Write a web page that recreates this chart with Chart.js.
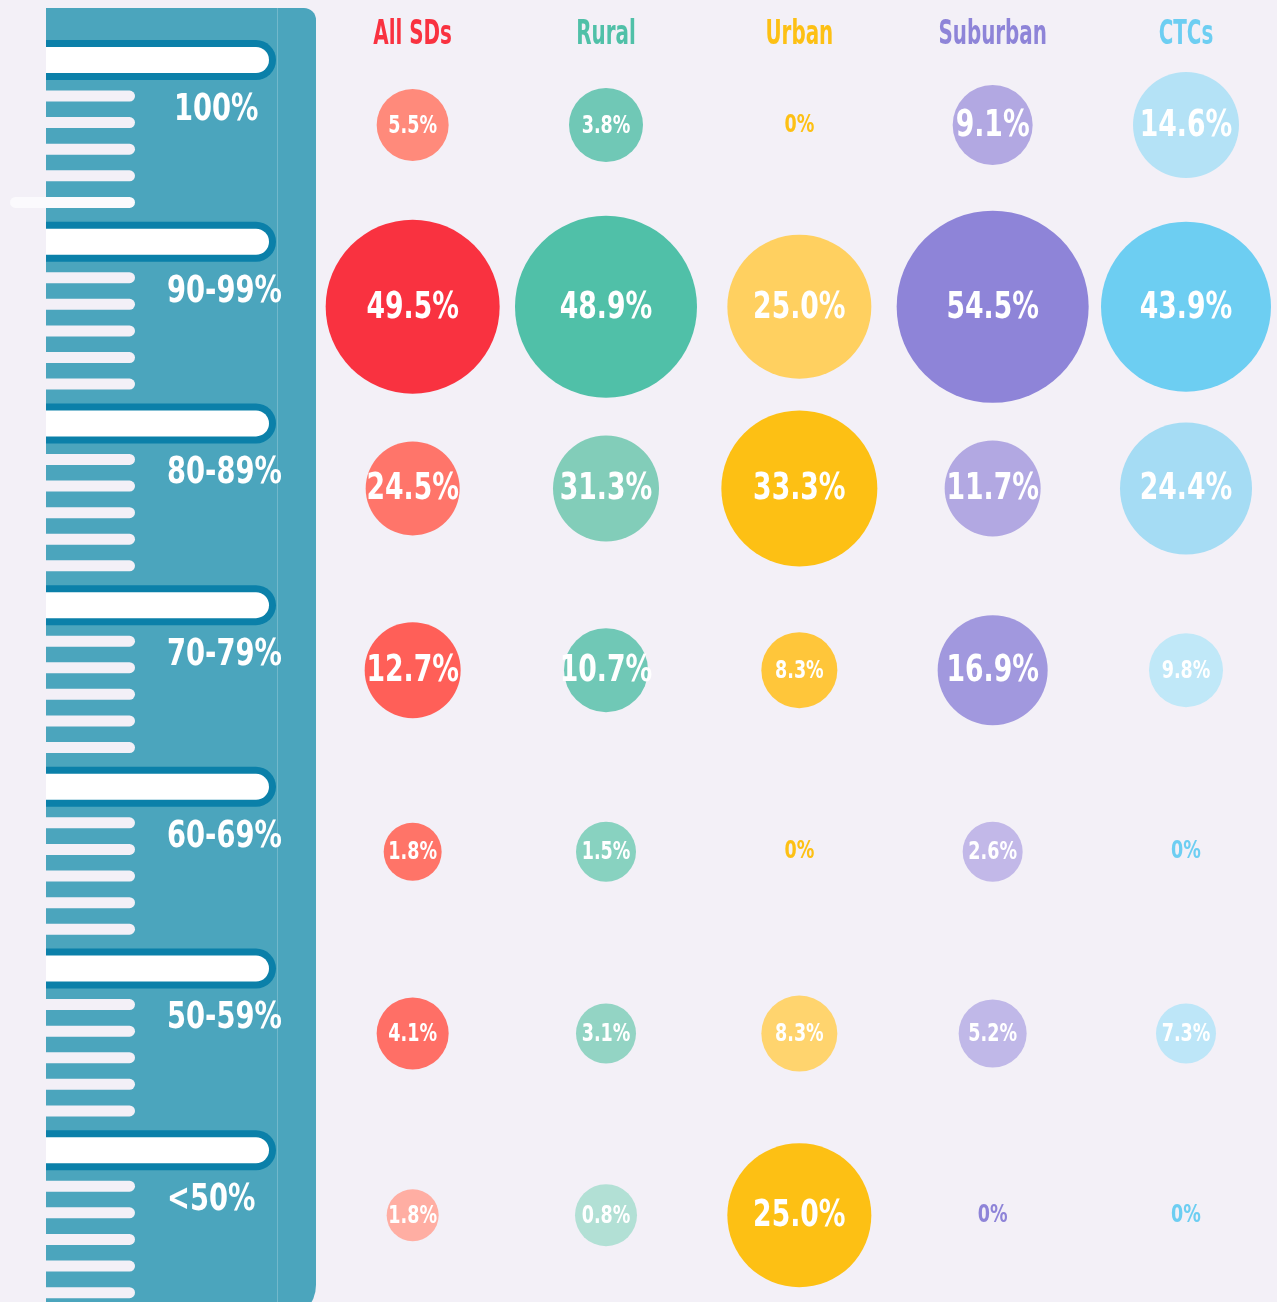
<!DOCTYPE html>
<html><head><meta charset="utf-8">
<script src="https://cdn.jsdelivr.net/npm/chart.js@4"></script>
<style>
html,body{margin:0;padding:0;background:#f3f0f7;overflow:hidden;}
canvas{display:block;}
</style></head><body>
<canvas id="c" width="1277" height="1302"></canvas>
<script>
// ---- data ----
const categories = ['All SDs', 'Rural', 'Urban', 'Suburban', 'CTCs'];
const rowLabels = ['100%', '90-99%', '80-89%', '70-79%', '60-69%', '50-59%', '<50%'];
const allSDs   = [5.5, 49.5, 24.5, 12.7, 1.8, 4.1, 1.8];
const rural    = [3.8, 48.9, 31.3, 10.7, 1.5, 3.1, 0.8];
const urban    = [0, 25.0, 33.3, 8.3, 0, 8.3, 25.0];
const suburban = [9.1, 54.5, 11.7, 16.9, 2.6, 5.2, 0];
const ctcs     = [14.6, 43.9, 24.4, 9.8, 0, 7.3, 0];
// bubble sizes (radius, the bubble chart's third dimension)
const allSDsSize   = [36, 87, 47, 48, 29, 36, 26];
const ruralSize    = [37, 91, 53, 42, 30, 30, 31];
const urbanSize    = [0, 72, 78, 38, 0, 38, 72];
const suburbanSize = [40, 96, 48, 55, 30, 34, 0];
const ctcsSize     = [53, 85, 66, 37, 0, 30, 0];

// ---- styles ----
const headerColors = ['#f93240', '#50c0a8', '#fdc014', '#8e84d8', '#6dcef2'];
const bubbleColors = [
  ['#ff8a7b', '#f93240', '#ff756a', '#ff5f58', '#ff7468', '#ff6f66', '#ffaea3'],
  ['#70c8b6', '#50c0a8', '#82cdb9', '#70c8b6', '#88d2c0', '#93d4c4', '#b2e0d5'],
  ['#fdc014', '#ffd060', '#fdc014', '#ffc63a', '#fdc014', '#ffd46e', '#fdc014'],
  ['#b2a8e2', '#8e84d8', '#b2a8e2', '#a198de', '#c2b8e8', '#c0b8e8', '#8e84d8'],
  ['#b4e2f6', '#6dcef2', '#a5dcf4', '#c0e8f8', '#6dcef2', '#bde6f8', '#6dcef2']
];
const BG = '#f3f0f7';
const FONT = "'DejaVu Sans Condensed','DejaVu Sans',sans-serif";

const seriesValues = [allSDs, rural, urban, suburban, ctcs];
const seriesSizes = [allSDsSize, ruralSize, urbanSize, suburbanSize, ctcsSize];

const datasets = categories.map((name, ci) => ({
  label: name,
  data: seriesValues[ci].map((v, ri) => ({ x: ci, y: ri, r: seriesSizes[ci][ri], v: v })),
  backgroundColor: bubbleColors[ci],
  borderWidth: 0,
  hoverRadius: 0,
  hoverBorderWidth: 0,
  clip: false
}));

function rrect(ctx, x, y, w, h, rl, rr) {
  ctx.beginPath();
  ctx.moveTo(x + rl, y);
  ctx.lineTo(x + w - rr, y);
  if (rr) ctx.arc(x + w - rr, y + rr, rr, -Math.PI / 2, 0);
  ctx.lineTo(x + w, y + h - rr);
  if (rr) ctx.arc(x + w - rr, y + h - rr, rr, 0, Math.PI / 2);
  ctx.lineTo(x + rl, y + h);
  if (rl) ctx.arc(x + rl, y + h - rl, rl, Math.PI / 2, Math.PI);
  ctx.lineTo(x, y + rl);
  if (rl) ctx.arc(x + rl, y + rl, rl, Math.PI, Math.PI * 1.5);
  ctx.closePath();
  ctx.fill();
}

// condensed text: real text drawn with a horizontal squeeze
function condText(ctx, text, x, y, sx) {
  ctx.save();
  ctx.translate(x, y);
  ctx.scale(sx, 1);
  ctx.fillText(text, 0, 0);
  ctx.restore();
}

const rulerPlugin = {
  id: 'ruler',
  beforeDraw(chart) {
    const ctx = chart.ctx;
    const ys = chart.scales.y, xs = chart.scales.x;
    ctx.save();
    ctx.fillStyle = BG;
    ctx.fillRect(0, 0, chart.width, chart.height);
    // ruler body
    ctx.fillStyle = '#4ba5bd';
    ctx.beginPath();
    ctx.moveTo(46, 8);
    ctx.lineTo(304, 8);
    ctx.arc(304, 20, 12, -Math.PI / 2, 0);
    ctx.lineTo(316, 1285);
    ctx.arc(281, 1285, 35, 0, Math.PI / 2);
    ctx.lineTo(46, 1320);
    ctx.closePath();
    ctx.fill();
    ctx.fillStyle = 'rgba(255,255,255,0.22)';
    ctx.fillRect(277, 8, 1, 1300);
    rowLabels.forEach((lab, ri) => {
      const mY = ys.getPixelForValue(ri) - 65;
      ctx.fillStyle = '#0b80a9';
      rrect(ctx, 46, mY - 20, 230, 40, 0, 20);
      ctx.fillStyle = '#ffffff';
      rrect(ctx, 46, mY - 13, 223, 26, 0, 13);
      for (let k = 0; k < 5; k++) {
        const ty = mY + 36 + k * 26.6;
        if (ri === 0 && k === 4) {
          ctx.fillStyle = '#fbfafd';
          rrect(ctx, 10, ty - 5.5, 125, 11, 5.5, 5.5);
        } else {
          ctx.fillStyle = BG;
          rrect(ctx, 46, ty - 5.5, 89, 11, 0, 5.5);
        }
      }
      ctx.fillStyle = '#ffffff';
      ctx.font = 'bold 38px ' + FONT;
      ctx.textAlign = 'left';
      ctx.textBaseline = 'middle';
      condText(ctx, lab, ri === 0 ? 174 : 167, mY + 50, 0.8);
    });
    // column headers
    ctx.font = 'bold 34px ' + FONT;
    ctx.textAlign = 'center';
    ctx.textBaseline = 'middle';
    categories.forEach((c, ci) => {
      ctx.fillStyle = headerColors[ci];
      condText(ctx, c, xs.getPixelForValue(ci), 35, 0.65);
    });
    ctx.restore();
  },
  afterDatasetsDraw(chart) {
    const ctx = chart.ctx;
    ctx.save();
    ctx.textAlign = 'center';
    ctx.textBaseline = 'middle';
    chart.data.datasets.forEach((ds, ci) => {
      const meta = chart.getDatasetMeta(ci);
      meta.data.forEach((el, ri) => {
        const d = ds.data[ri];
        const big = d.r >= 40;
        ctx.font = 'bold ' + (big ? 38 : 25) + 'px ' + FONT;
        if (d.v === 0) {
          ctx.fillStyle = headerColors[ci];
          condText(ctx, '0%', el.x, el.y, 0.78);
        } else {
          ctx.fillStyle = '#ffffff';
          condText(ctx, d.v.toFixed(1) + '%', el.x, el.y + 1, 0.78);
        }
      });
    });
    ctx.restore();
  }
};

new Chart(document.getElementById('c'), {
  type: 'bubble',
  data: { datasets: datasets },
  options: {
    responsive: false,
    animation: false,
    events: [],
    layout: { autoPadding: false, padding: { left: 316, right: 4, top: 16, bottom: 5 } },
    scales: {
      x: { type: 'linear', min: -0.5, max: 4.45, display: false },
      y: { type: 'linear', min: -0.6, max: 6.45, reverse: true, display: false }
    },
    plugins: { legend: { display: false }, tooltip: { enabled: false } }
  },
  plugins: [rulerPlugin]
});
</script>
</body></html>
